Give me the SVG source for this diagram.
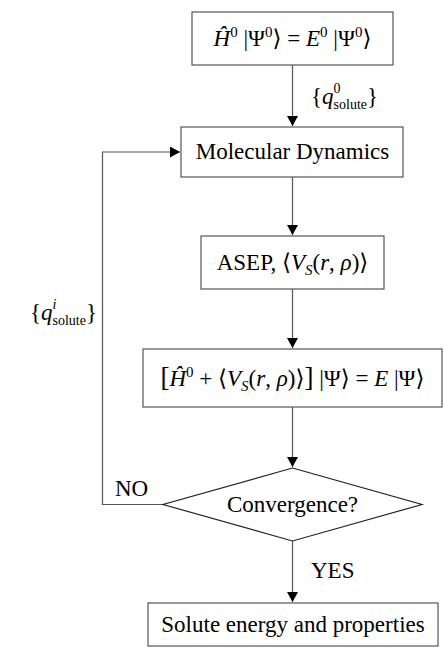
<svg xmlns="http://www.w3.org/2000/svg" width="444" height="647" viewBox="0 0 444 647">
<style>
text{font-family:"Liberation Serif","DejaVu Serif",serif;font-size:23px;fill:#000}
.i{font-style:italic}
.s{font-size:15px}
.t{font-size:14px}
.box{fill:#fff;stroke:#555;stroke-width:1.2}
.dia{fill:#fff;stroke:#222;stroke-width:1.2}
.ln{fill:none;stroke:#555;stroke-width:1.2}
</style>
<defs>
<marker id="ah" viewBox="0 0 10 11" refX="10" refY="5.5" markerWidth="10" markerHeight="11" markerUnits="userSpaceOnUse" orient="auto">
<path d="M0,0 L10,5.5 L0,11 Z" fill="#000"/>
</marker>
</defs>
<g id="connectors">
<path class="ln" d="M292.5,65 V126" marker-end="url(#ah)"/>
<path class="ln" d="M292.5,177 V235" marker-end="url(#ah)"/>
<path class="ln" d="M292.5,289 V348" marker-end="url(#ah)"/>
<path class="ln" d="M292.5,407 V467" marker-end="url(#ah)"/>
<path class="ln" d="M292.5,541 V602" marker-end="url(#ah)"/>
<path class="ln" d="M163,504.5 H102.5 V152 H180" marker-end="url(#ah)"/>
<text x="311" y="104"><tspan>{</tspan><tspan class="i">q</tspan><tspan class="t" dy="-11">0</tspan><tspan class="t" dx="-7" dy="16">solute</tspan><tspan dy="-5">}</tspan></text>
<text x="30" y="320"><tspan>{</tspan><tspan class="i">q</tspan><tspan class="t i" dy="-11">i</tspan><tspan class="t" dx="-4" dy="16">solute</tspan><tspan dy="-5">}</tspan></text>
<text x="115" y="496">NO</text>
<text x="311" y="578">YES</text>
</g>
<g id="n1">
<rect class="box" x="192" y="12" width="201" height="53"/>
<text x="292.5" y="46" text-anchor="middle"><tspan class="i">Ĥ</tspan><tspan class="s" dy="-9">0</tspan><tspan dy="9"> |Ψ</tspan><tspan class="s" dy="-9">0</tspan><tspan dy="9">⟩ = </tspan><tspan class="i">E</tspan><tspan class="s" dy="-9">0</tspan><tspan dy="9"> |Ψ</tspan><tspan class="s" dy="-9">0</tspan><tspan dy="9">⟩</tspan></text>
</g>
<g id="n2">
<rect class="box" x="181" y="127" width="222" height="50"/>
<text x="292.5" y="159" text-anchor="middle">Molecular Dynamics</text>
</g>
<g id="n3">
<rect class="box" x="201" y="236" width="183" height="53"/>
<text x="292.5" y="270" text-anchor="middle">ASEP, ⟨<tspan class="i">V</tspan><tspan class="s i" dy="5">S</tspan><tspan dy="-5">(</tspan><tspan class="i">r</tspan>, <tspan class="i">ρ</tspan>)⟩</text>
</g>
<g id="n4">
<rect class="box" x="143" y="349" width="299" height="58"/>
<text x="292.5" y="386" text-anchor="middle"><tspan font-size="27">[</tspan><tspan class="i">Ĥ</tspan><tspan class="s" dy="-9">0</tspan><tspan dy="9"> + ⟨</tspan><tspan class="i">V</tspan><tspan class="s i" dy="5">S</tspan><tspan dy="-5">(</tspan><tspan class="i">r</tspan>, <tspan class="i">ρ</tspan>)⟩<tspan font-size="27">]</tspan> |Ψ⟩ = <tspan class="i">E</tspan> |Ψ⟩</text>
</g>
<g id="n5">
<polygon class="dia" points="292.5,468 422,504.5 292.5,541 163,504.5"/>
<text x="292.5" y="512" text-anchor="middle">Convergence?</text>
</g>
<g id="n6">
<rect class="box" x="148" y="603" width="290" height="43"/>
<text x="293" y="632" text-anchor="middle">Solute energy and properties</text>
</g>
</svg>
